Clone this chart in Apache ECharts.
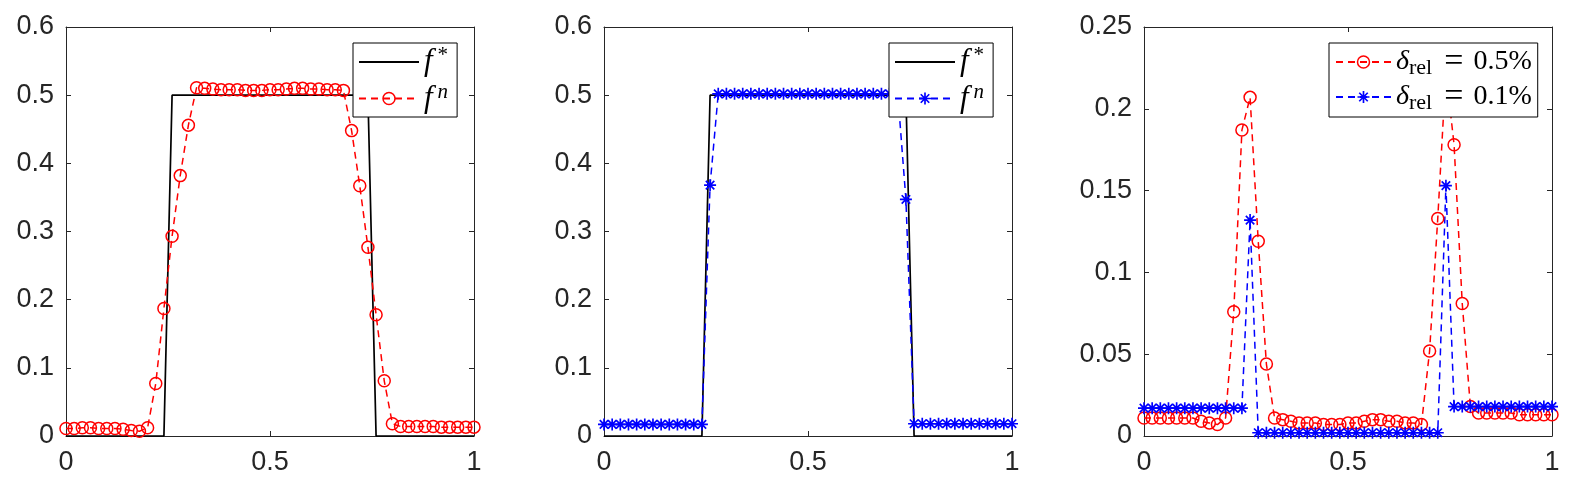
<!DOCTYPE html>
<html>
<head>
<meta charset="utf-8">
<script src="https://cdn.jsdelivr.net/npm/echarts@6/dist/echarts.min.js"></script>
<style>
html, body { margin: 0; padding: 0; background: #fff; }
#chart { width: 1585px; height: 486px; }
</style>
</head>
<body>
<div id="chart"></div>
<script>
// grid points x = 0 : 0.02 : 1
const xs = [0, 0.02, 0.04, 0.06, 0.08, 0.1, 0.12, 0.14, 0.16, 0.18, 0.2, 0.22, 0.24, 0.26, 0.28, 0.3, 0.32, 0.34,
  0.36, 0.38, 0.4, 0.42, 0.44, 0.46, 0.48, 0.5, 0.52, 0.54, 0.56, 0.58, 0.6, 0.62, 0.64, 0.66, 0.68, 0.7,
  0.72, 0.74, 0.76, 0.78, 0.8, 0.82, 0.84, 0.86, 0.88, 0.9, 0.92, 0.94, 0.96, 0.98, 1];

// exact solution f*
const fStar = [0, 0, 0, 0, 0, 0, 0, 0, 0, 0, 0, 0, 0, 0.5, 0.5, 0.5, 0.5, 0.5, 0.5, 0.5, 0.5, 0.5, 0.5, 0.5, 0.5,
  0.5, 0.5, 0.5, 0.5, 0.5, 0.5, 0.5, 0.5, 0.5, 0.5, 0.5, 0.5, 0.5, 0, 0, 0, 0, 0, 0, 0, 0, 0, 0, 0, 0, 0];

// reconstruction, delta_rel = 0.5% (left panel)
const fn05 = [0.011, 0.011, 0.012, 0.012, 0.011, 0.011, 0.011, 0.010, 0.008, 0.007, 0.012, 0.077, 0.187, 0.293,
  0.382, 0.456, 0.511, 0.510, 0.509, 0.508, 0.508, 0.508, 0.507, 0.507, 0.507, 0.508, 0.508, 0.509, 0.510, 0.510,
  0.509, 0.509, 0.508, 0.508, 0.507, 0.448, 0.367, 0.277, 0.178, 0.081, 0.018, 0.014, 0.014, 0.014, 0.014, 0.014,
  0.013, 0.013, 0.013, 0.013, 0.013];

// reconstruction, delta_rel = 0.1% (middle panel)
const fn01 = [0.017, 0.017, 0.017, 0.017, 0.017, 0.017, 0.017, 0.017, 0.017, 0.017, 0.017, 0.017, 0.017, 0.368,
  0.502, 0.502, 0.502, 0.502, 0.502, 0.502, 0.502, 0.502, 0.502, 0.502, 0.502, 0.502, 0.502, 0.502, 0.502, 0.502,
  0.502, 0.502, 0.502, 0.502, 0.502, 0.502, 0.502, 0.347, 0.018, 0.018, 0.018, 0.018, 0.018, 0.018, 0.018, 0.018,
  0.018, 0.018, 0.018, 0.018, 0.018];

// pointwise errors (right panel)
const err05 = [0.011, 0.011, 0.011, 0.011, 0.011, 0.011, 0.011, 0.009, 0.008, 0.007, 0.011, 0.076, 0.187, 0.207,
  0.119, 0.044, 0.011, 0.010, 0.009, 0.008, 0.008, 0.008, 0.007, 0.007, 0.007, 0.008, 0.008, 0.009, 0.010, 0.010,
  0.009, 0.009, 0.008, 0.008, 0.007, 0.052, 0.133, 0.223, 0.178, 0.081, 0.018, 0.014, 0.014, 0.014, 0.014, 0.014,
  0.013, 0.013, 0.013, 0.013, 0.013];
const err01 = [0.017, 0.017, 0.017, 0.017, 0.017, 0.017, 0.017, 0.017, 0.017, 0.017, 0.017, 0.017, 0.017, 0.132,
  0.002, 0.002, 0.002, 0.002, 0.002, 0.002, 0.002, 0.002, 0.002, 0.002, 0.002, 0.002, 0.002, 0.002, 0.002, 0.002,
  0.002, 0.002, 0.002, 0.002, 0.002, 0.002, 0.002, 0.153, 0.018, 0.018, 0.018, 0.018, 0.018, 0.018, 0.018, 0.018,
  0.018, 0.018, 0.018, 0.018, 0.018];

const yMax = [0.6, 0.6, 0.25];
const yStep = [0.1, 0.1, 0.05];

const axisColor = '#262626';
const tickFont = 'Liberation Sans, Arial, sans-serif';
const mathFont = 'Liberation Serif, Times New Roman, serif';
// matlab style '*' marker
const star = 'path://M8.6 0H11.4V20H8.6Z M0 8.6H20V11.4H0Z M3.93 1.94L18.06 16.07L16.07 18.06L1.94 3.93Z M16.07 1.94L18.06 3.93L3.93 18.06L1.94 16.07Z';

const grids = [
  { left: 66, top: 27, width: 408, height: 409 },
  { left: 604, top: 27, width: 408, height: 409 },
  { left: 1144, top: 27, width: 408, height: 409 }
];

function pairs (ys) {
  return xs.map((x, i) => [x, ys[i]]);
}

const xAxes = [];
const yAxes = [];
grids.forEach((g, i) => {
  ['bottom', 'top'].forEach(pos => {
    xAxes.push({
      type: 'value', gridIndex: i, position: pos, min: 0, max: 1, interval: 0.5,
      axisLine: { onZero: false, lineStyle: { color: axisColor, width: 1 } },
      axisTick: { inside: true, length: 5, lineStyle: { color: axisColor } },
      axisLabel: { show: pos === 'bottom', margin: 13, color: axisColor, fontSize: 27, fontFamily: tickFont },
      splitLine: { show: false }
    });
  });
  ['left', 'right'].forEach(pos => {
    yAxes.push({
      type: 'value', gridIndex: i, position: pos, min: 0, max: yMax[i], interval: yStep[i],
      axisLine: { show: true, onZero: false, lineStyle: { color: axisColor, width: 1 } },
      axisTick: { show: true, inside: true, length: 5, lineStyle: { color: axisColor } },
      axisLabel: { show: pos === 'left', margin: 12, color: axisColor, fontSize: 27, fontFamily: tickFont },
      splitLine: { show: false }
    });
  });
});

function exactLine (name, i) {
  return {
    type: 'line', name: name, xAxisIndex: 2 * i, yAxisIndex: 2 * i, data: pairs(fStar),
    symbol: 'none', clip: false, silent: true,
    lineStyle: { color: '#000', width: 1.7 }, itemStyle: { color: '#000' }
  };
}
function circles (name, i, ys) {
  return {
    type: 'line', name: name, xAxisIndex: 2 * i, yAxisIndex: 2 * i, data: pairs(ys),
    symbol: 'circle', symbolSize: 12, showAllSymbol: true, clip: false, silent: true,
    itemStyle: { color: 'rgba(255,0,0,0)', borderColor: '#ff0000', borderWidth: 1.5 },
    lineStyle: { color: '#ff0000', width: 1.5, type: [7, 5] }
  };
}
function stars (name, i, ys) {
  return {
    type: 'line', name: name, xAxisIndex: 2 * i, yAxisIndex: 2 * i, data: pairs(ys),
    symbol: star, symbolSize: 12, showAllSymbol: true, clip: false, silent: true,
    itemStyle: { color: '#0000ff', borderWidth: 0 },
    lineStyle: { color: '#0000ff', width: 1.5, type: [7, 5] }
  };
}

const fRich = {
  f: { fontFamily: mathFont, fontStyle: 'italic', fontSize: 31, lineHeight: 34, color: '#000', padding: [0, 5, 0, 0] },
  s: { fontFamily: mathFont, fontStyle: 'italic', fontSize: 21, lineHeight: 27, verticalAlign: 'top', color: '#000' },
  a: { fontFamily: mathFont, fontSize: 21, lineHeight: 31, verticalAlign: 'top', color: '#000' }
};
const dRich = {
  d: { fontFamily: mathFont, fontStyle: 'italic', fontSize: 28, lineHeight: 34, color: '#000' },
  r: { fontFamily: mathFont, fontSize: 22, lineHeight: 23, verticalAlign: 'bottom', color: '#000', padding: [0, 2, 0, 0] },
  e: { fontFamily: mathFont, fontSize: 34, lineHeight: 34, color: '#000', padding: [0, 10, 0, 10] },
  t: { fontFamily: mathFont, fontSize: 28, lineHeight: 34, color: '#000' }
};

function fLegend (left, names) {
  return {
    left: left, top: 43, orient: 'vertical', selectedMode: false,
    data: [{ name: names[0], itemStyle: { opacity: 0 } }, { name: names[1], itemStyle: { borderWidth: 1.5 } }],
    itemWidth: 60, itemHeight: 15, itemGap: 4, padding: [2, 9, 3, 5],
    borderColor: '#000', borderWidth: 1, backgroundColor: '#fff',
    formatter: n => n.indexOf('fn') === 0 ? '{f|f}{s|n}' : '{f|f}{a|*}',
    textStyle: { rich: fRich }
  };
}

const option = {
  animation: false,
  backgroundColor: '#fff',
  grid: grids,
  xAxis: xAxes,
  yAxis: yAxes,
  legend: [
    fLegend(353, ['f*_1', 'fn_1']),
    fLegend(889, ['f*_2', 'fn_2']),
    {
      left: 1329, top: 43, orient: 'vertical', selectedMode: false,
      data: [{ name: 'e05', itemStyle: { borderWidth: 1.5 } }, 'e01'],
      itemWidth: 55, itemHeight: 15, itemGap: 1, padding: [2, 6, 3, 6],
      borderColor: '#000', borderWidth: 1, backgroundColor: '#fff',
      formatter: n => n === 'e05' ? '{d|δ}{r|rel}{e|=}{t|0.5%}' : '{d|δ}{r|rel}{e|=}{t|0.1%}',
      textStyle: { rich: dRich }
    }
  ],
  series: [
    exactLine('f*_1', 0),
    circles('fn_1', 0, fn05),
    exactLine('f*_2', 1),
    stars('fn_2', 1, fn01),
    circles('e05', 2, err05),
    stars('e01', 2, err01)
  ]
};

const mychart = echarts.init(document.getElementById('chart'));
mychart.setOption(option);
</script>
</body>
</html>
